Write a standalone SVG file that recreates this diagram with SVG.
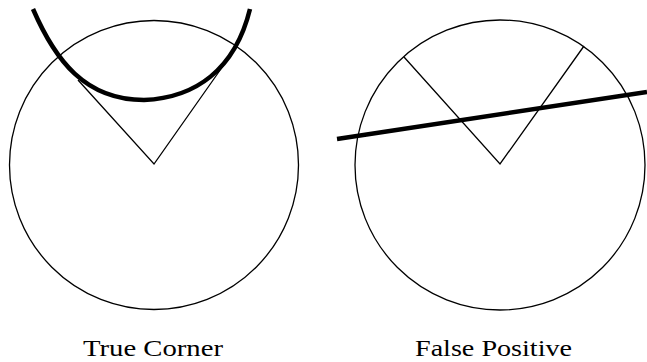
<svg xmlns="http://www.w3.org/2000/svg" width="647" height="362" viewBox="0 0 647 362">
<style>
.c{fill:none;stroke:#000;stroke-width:1.3}
.t{fill:none;stroke:#000;stroke-width:1.3}
.k{fill:none;stroke:#000;stroke-width:4.5;stroke-linecap:butt}
.l{font-family:"Liberation Serif",serif;font-size:24px;fill:#000;text-anchor:middle}
</style>
<rect width="647" height="362" fill="#fff"/>
<g id="true-corner">
<circle class="c" cx="154" cy="165" r="144.5"/>
<polyline class="t" points="78,80 154,164 223,66"/>
<path class="k" d="M33,9 C55,60 85,100 144,100 C195,98 235,70 250,9"/>
<text class="l" x="153" y="356" textLength="140" lengthAdjust="spacingAndGlyphs">True Corner</text>
</g>
<g id="false-positive">
<circle class="c" cx="500" cy="165" r="145"/>
<polyline class="t" points="404,57 500,164 584,46"/>
<line class="k" x1="337" y1="139" x2="647" y2="92"/>
<text class="l" x="493.5" y="356" textLength="157" lengthAdjust="spacingAndGlyphs">False Positive</text>
</g>
</svg>
